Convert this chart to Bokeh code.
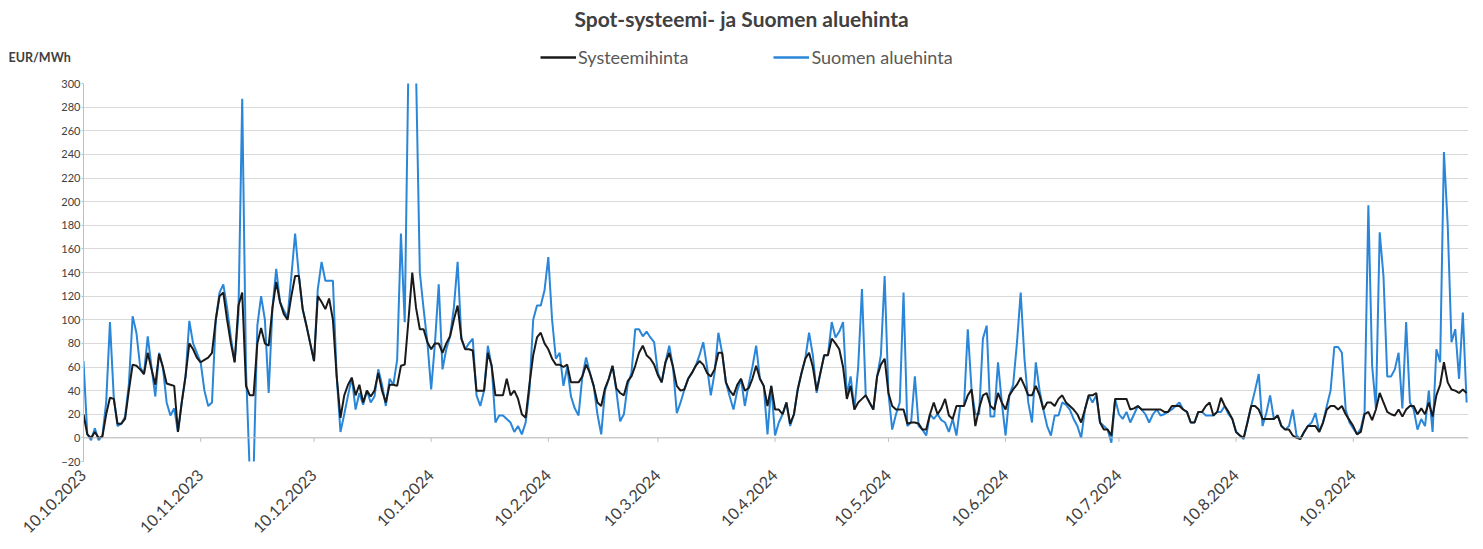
import pandas as pd
from bokeh.plotting import figure
from bokeh.layouts import column
from bokeh.models import Range1d, FixedTicker, Span, Legend, LegendItem, Label, ColumnDataSource
from bokeh.embed import file_html
from bokeh.resources import INLINE

start_date = "2023-10-10"

systeemihinta = [
    20, 3, 0, 5, 0, 1, 20, 34, 33, 12, 12, 16, 40, 62, 61, 58, 54, 72, 58, 45,
    71, 60, 46, 45, 44, 5, 30, 52, 80, 75, 68, 64, 66, 68, 72, 100, 120,
    123, 100, 80, 64, 112, 123, 44, 36, 36, 80, 93, 80, 78, 110, 132, 115, 105, 100, 120,
    137, 137, 109, 95, 80, 65, 120, 115, 109, 118, 100, 52, 17, 36, 45, 51, 36,
    45, 30, 40, 35, 40, 55, 40, 30, 45, 45, 44, 61, 62, 100, 140, 110, 92, 92, 81, 75,
    80, 80, 72, 80, 86, 100, 112, 84, 75, 75, 74, 40, 40, 40, 72, 61, 36,
    36, 36, 50, 36, 40, 33, 20, 17, 45, 70, 85, 89, 80, 75, 67, 62, 62, 60, 62, 47,
    47, 47, 52, 62, 55, 44, 30, 27, 42, 50, 61, 42, 38, 36, 48, 52, 61,
    72, 78, 70, 67, 62, 53, 47, 64, 72, 60, 44, 40, 41, 50, 55, 61, 65, 62, 55, 52,
    58, 72, 72, 47, 40, 36, 45, 50, 40, 42, 50, 61, 50, 44, 27, 44, 24,
    24, 20, 30, 12, 20, 41, 55, 67, 72, 60, 40, 55, 70, 70, 84, 80, 75, 60, 33, 44,
    24, 30, 33, 36, 30, 24, 52, 62, 67, 38, 27, 24, 24, 24, 12, 13, 13, 12,
    7, 7, 20, 30, 20, 25, 33, 19, 16, 27, 27, 27, 36, 41, 10, 25, 36, 38, 27, 24,
    38, 30, 24, 36, 41, 45, 51, 44, 36, 36, 44, 36, 24, 30, 30, 27,
    33, 36, 30, 27, 24, 20, 13, 24, 36, 36, 38, 13, 7, 7, 2, 33, 33, 33, 33, 24,
    25, 27, 24, 24, 24, 24, 24, 24, 22, 22, 27, 27, 27, 24, 22, 13, 13, 22,
    22, 27, 30, 19, 22, 34, 27, 22, 16, 5, 2, 0, 13, 27, 27, 24, 16, 16, 16, 16,
    19, 10, 7, 7, 2, 0, -1, 5, 10, 10, 10, 5, 13, 24, 27, 27, 24,
    27, 20, 15, 10, 3, 5, 20, 22, 15, 24, 38, 30, 22, 20, 19, 24, 18, 24, 27, 27,
    20, 25, 20, 30, 18, 36, 45, 64, 47, 41, 40, 38, 41, 38,
]

suomen_aluehinta = [
    65, 3, -2, 8, -2, 2, 30, 98, 35, 10, 12, 18, 45, 103, 89, 60, 54, 86, 60, 35,
    72, 60, 30, 19, 25, 5, 30, 52, 99, 80, 72, 64, 40, 27, 30, 100, 123,
    130, 110, 85, 64, 105, 287, 58, -30, -30, 95, 120, 100, 38, 110, 143, 115, 108, 102, 137,
    173, 137, 109, 95, 80, 65, 126, 149, 133, 133, 133, 52, 5, 20, 36, 51, 24,
    38, 28, 40, 30, 35, 58, 45, 27, 50, 45, 66, 173, 98, 320, 350, 310, 140, 109, 81, 41,
    80, 130, 58, 75, 86, 110, 149, 84, 75, 80, 84, 36, 27, 40, 78, 61, 13,
    19, 19, 16, 13, 5, 10, 3, 13, 40, 100, 112, 112, 125, 153, 100, 67, 72, 44, 60, 35,
    25, 19, 52, 68, 55, 44, 20, 3, 40, 50, 61, 40, 14, 20, 45, 55, 92,
    92, 86, 90, 85, 81, 55, 47, 64, 78, 60, 21, 30, 41, 50, 55, 61, 70, 81, 60, 36,
    55, 89, 72, 47, 35, 24, 40, 50, 27, 45, 60, 78, 50, 44, 3, 44, 2,
    13, 20, 30, 10, 20, 41, 55, 67, 89, 70, 38, 55, 70, 70, 98, 85, 90, 98, 36, 52,
    24, 60, 126, 36, 30, 24, 52, 70, 137, 38, 7, 20, 30, 123, 10, 13, 52, 10,
    7, 2, 20, 16, 20, 15, 13, 5, 16, 2, 27, 27, 92, 41, 20, 20, 84, 95, 18, 18,
    64, 30, 2, 36, 45, 80, 123, 67, 30, 13, 64, 40, 24, 10, 2, 19,
    19, 30, 28, 24, 16, 10, 0, 24, 36, 30, 36, 13, 10, 7, -4, 33, 20, 16, 22, 13,
    20, 27, 24, 20, 13, 20, 24, 19, 20, 22, 24, 27, 30, 24, 22, 13, 13, 22,
    22, 19, 19, 19, 22, 22, 27, 20, 16, 5, 2, -1, 13, 27, 40, 54, 10, 21, 36, 16,
    19, 10, 7, 10, 24, 2, -1, 5, 10, 13, 21, 5, 13, 27, 40, 77, 77,
    72, 24, 13, 8, 3, 8, 22, 197, 61, 25, 174, 137, 52, 52, 58, 72, 25, 98, 30, 24,
    7, 16, 10, 40, 5, 75, 64, 242, 180, 81, 92, 50, 106, 30,
]

tick_dates = ["2023-10-10", "2023-11-10", "2023-12-10", "2024-01-10", "2024-02-10",
              "2024-03-10", "2024-04-10", "2024-05-10", "2024-06-10", "2024-07-10",
              "2024-08-10", "2024-09-10"]
tick_labels = ["10.10.2023", "10.11.2023", "10.12.2023", "10.1.2024", "10.2.2024",
               "10.3.2024", "10.4.2024", "10.5.2024", "10.6.2024", "10.7.2024",
               "10.8.2024", "10.9.2024"]
y_ticks = list(range(-20, 301, 20))

title_text = "Spot-systeemi- ja Suomen aluehinta"
unit_text = "EUR/MWh"
series_names = ["Systeemihinta", "Suomen aluehinta"]

FONT = "Lato"
GRAY = "#595959"
DARK = "#404040"
BLUE = "#2a86d8"
BLACK = "#1a1a1a"

dates = pd.date_range(start_date, periods=len(systeemihinta), freq="D")
xs = [int(v) for v in (dates - dates[0]).days]
tick_x = [int((pd.Timestamp(d) - dates[0]).days) for d in tick_dates]

src = ColumnDataSource(dict(x=xs, sys=systeemihinta, fi=suomen_aluehinta))

W = 1480
H = 548
HEAD_H = 70

# ---------------- header (title, unit, legend) ----------------
hf = figure(width=W, height=HEAD_H, output_backend="svg", toolbar_location=None,
            x_range=Range1d(0, W), y_range=Range1d(0, HEAD_H),
            x_axis_type=None, y_axis_type=None,
            min_border=0, min_border_left=0, min_border_right=0,
            min_border_top=0, min_border_bottom=0)
hf.frame_align = False
hf.outline_line_color = None
hf.xgrid.visible = False
hf.ygrid.visible = False

hf.add_layout(Label(x=741, y=HEAD_H - 18, text=title_text, text_align="center",
                    text_baseline="middle", text_font=FONT, text_font_size="21px",
                    text_font_style="bold", text_color=DARK))
hf.add_layout(Label(x=8, y=HEAD_H - 57, text=unit_text, text_align="left",
                    text_baseline="middle", text_font=FONT, text_font_size="12.5px",
                    text_font_style="bold", text_color=DARK))

# legend proxies (kept outside the visible area)
leg_sys = hf.line(x=[-50, -40], y=[-50, -50], line_color=BLACK, line_width=2.5)
leg_fi = hf.line(x=[-50, -40], y=[-50, -50], line_color=BLUE, line_width=2.5)
legend = Legend(items=[LegendItem(label=series_names[0], renderers=[leg_sys]),
                       LegendItem(label=series_names[1], renderers=[leg_fi])],
                location=(540, HEAD_H - 68), orientation="horizontal",
                padding=0, margin=0, spacing=85, glyph_width=36, glyph_height=20,
                label_height=20, label_standoff=2,
                border_line_alpha=0, background_fill_alpha=0,
                label_text_font=FONT, label_text_font_size="18px", label_text_color=GRAY)
hf.add_layout(legend, "center")

# ---------------- main chart ----------------
MAIN_H = H - HEAD_H
p = figure(width=W, height=MAIN_H, output_backend="svg", toolbar_location=None,
           x_range=Range1d(0, xs[-1] + 0.5), y_range=Range1d(-20, 300),
           min_border_left=83, min_border_right=W - 1468,
           min_border_top=83 - HEAD_H, min_border_bottom=MAIN_H - (461 - HEAD_H))
p.frame_align = False
p.outline_line_color = None
p.background_fill_color = "white"

p.xgrid.visible = False
p.ygrid.ticker = FixedTicker(ticks=y_ticks)
p.ygrid.grid_line_color = "#d9d9d9"
p.ygrid.grid_line_width = 1

p.yaxis.ticker = FixedTicker(ticks=y_ticks)
p.yaxis.axis_line_color = "#bfbfbf"
p.yaxis.major_tick_line_color = "#bfbfbf"
p.yaxis.major_tick_out = 2
p.yaxis.major_tick_in = 0
p.yaxis.minor_tick_line_color = None
p.yaxis.major_label_standoff = 1
p.yaxis.major_label_text_font = FONT
p.yaxis.major_label_text_font_size = "11px"
p.yaxis.major_label_text_color = DARK

p.xaxis.ticker = FixedTicker(ticks=tick_x)
p.xaxis.major_label_overrides = {t: l for t, l in zip(tick_x, tick_labels)}
p.xaxis.axis_line_color = None
p.xaxis.major_tick_line_color = None
p.xaxis.minor_tick_line_color = None
p.xaxis.major_label_orientation = 0.785
p.xaxis.major_label_standoff = 5
p.xaxis.major_label_text_font = FONT
p.xaxis.major_label_text_font_size = "16px"
p.xaxis.major_label_text_color = DARK

p.add_layout(Span(location=0, dimension="width", line_color="#bfbfbf", line_width=1))
p.segment(x0=tick_x, x1=tick_x, y0=[0] * len(tick_x), y1=[-3.4] * len(tick_x),
          line_color="#bfbfbf", line_width=1)

r_fi = p.line("x", "fi", source=src, line_color=BLUE, line_width=2)
r_sys = p.line("x", "sys", source=src, line_color=BLACK, line_width=2)

layout = column(hf, p, spacing=0)
open("out.html", "w").write(file_html(layout, INLINE))
